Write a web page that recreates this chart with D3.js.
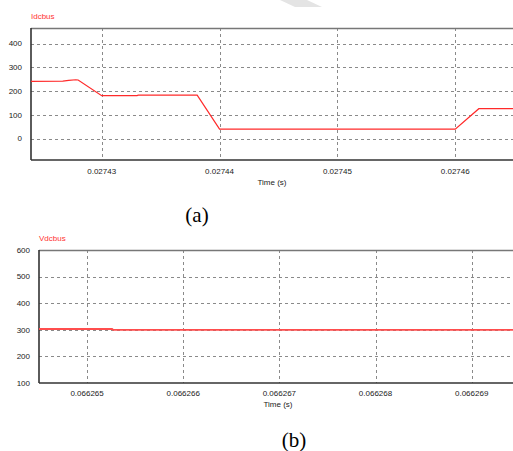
<!DOCTYPE html>
<html><head><meta charset="utf-8">
<script src="https://cdn.jsdelivr.net/npm/d3@7"></script>
<style>
html,body{margin:0;padding:0;background:#fff;}
svg{display:block;}
text{font-family:"Liberation Sans",Arial,sans-serif;}
text.cap{font-family:"Liberation Serif","Times New Roman",serif;}
</style></head>
<body>
<svg id="c" width="513" height="451"></svg>
<script>
// ---- Data (a) Idcbus ----
const idcTime = [0.0274240,0.0274267,0.0274272,0.0274278,0.0274280,0.0274300,0.0274330,0.0274331,0.0274381,0.0274400,0.0274600,0.0274620,0.0274650];
const idcValue = [241,242,245,248,247,181,181,183,183,40,40,126,126];
const idcXTicks = ["0.02743","0.02744","0.02745","0.02746"];
const idcYTicks = [0,100,200,300,400];

// ---- Data (b) Vdcbus ----
const vdcTime = [0.0662645,0.06626526,0.06626527,0.0662695];
const vdcValue = [303,303,300,300];
const vdcXTicks = ["0.066265","0.066266","0.066267","0.066268","0.066269"];
const vdcYTicks = [100,200,300,400,500,600];

const svg = d3.select("#c");

// faint watermark
svg.append("path").attr("d","M280,0 L307,0 L322,7 L295,7 Z").attr("fill","#e4e4e4");

function panel(o){
  const g = svg.append("g");
  const x = d3.scaleLinear().domain(o.xDomain).range([o.left,o.right]);
  const y = d3.scaleLinear().domain(o.yDomain).range([o.bottom,o.top]);
  const xt = o.xTicks.map(Number);
  // grid
  g.selectAll(".gy").data(o.yTicks.filter(v=>y(v)>o.top+1 && y(v)<o.bottom-1)).enter().append("line")
    .attr("x1",o.left).attr("x2",o.right).attr("y1",d=>Math.round(y(d))+0.5).attr("y2",d=>Math.round(y(d))+0.5)
    .attr("stroke","#8a8a8a").attr("stroke-dasharray","3,3").attr("stroke-width",1);
  g.selectAll(".gx").data(xt).enter().append("line")
    .attr("x1",d=>Math.round(x(d))+0.5).attr("x2",d=>Math.round(x(d))+0.5).attr("y1",o.top).attr("y2",o.bottom)
    .attr("stroke","#8a8a8a").attr("stroke-dasharray","3,3").attr("stroke-width",1);
  // frame
  g.append("line").attr("x1",o.left).attr("x2",o.right).attr("y1",o.top+0.5).attr("y2",o.top+0.5).attr("stroke","#777").attr("stroke-width",1.3);
  g.append("line").attr("x1",o.left).attr("x2",o.left).attr("y1",o.top).attr("y2",o.bottom).attr("stroke","#333").attr("stroke-width",1.6);
  g.append("line").attr("x1",o.left).attr("x2",o.right).attr("y1",o.bottom).attr("y2",o.bottom).attr("stroke","#333").attr("stroke-width",1.6);
  // line
  const line = d3.line().x((d,i)=>x(o.time[i])).y(d=>y(d));
  g.append("path").datum(o.values).attr("d",line).attr("fill","none")
    .attr("stroke",o.color).attr("stroke-width",o.lw);
  // y labels
  g.selectAll(".yl").data(o.yTicks).enter().append("text")
    .attr("x",o.left-9).attr("y",d=>y(d)).attr("dy","0.35em").attr("text-anchor","end")
    .attr("font-size",8).attr("fill","#222").text(d=>d);
  // x labels
  g.selectAll(".xl").data(o.xTicks).enter().append("text")
    .attr("x",d=>x(+d)).attr("y",o.bottom+o.xlabOff).attr("text-anchor","middle")
    .attr("font-size",8).attr("fill","#222").text(d=>d);
  g.append("text").attr("x",o.timeX).attr("y",o.bottom+o.xlabOff+11).attr("text-anchor","middle")
    .attr("font-size",8).attr("fill","#222").text("Time (s)");
  g.append("text").attr("x",o.left).attr("y",o.titleY).attr("font-size",8).attr("fill","#ff3333").text(o.title);
  g.append("text").attr("class","cap").attr("x",o.capX).attr("y",o.capY).attr("text-anchor","middle")
    .attr("font-size",21).attr("fill","#000").text(o.caption);
}

panel({left:31,right:513,top:28,bottom:160,xDomain:[0.0274240,0.0274649],yDomain:[-90,466],
  xTicks:idcXTicks,yTicks:idcYTicks,time:idcTime,values:idcValue,color:"#ff2a2a",lw:1.2,
  xlabOff:14,timeX:272,title:"Idcbus",titleY:19,caption:"(a)",capX:197,capY:222});

panel({left:39,right:513,top:250,bottom:383,xDomain:[0.0662645,0.06626943],yDomain:[100,600],
  xTicks:vdcXTicks,yTicks:vdcYTicks,time:vdcTime,values:vdcValue,color:"#ff4d4d",lw:1.8,
  xlabOff:13,timeX:278,title:"Vdcbus",titleY:241,caption:"(b)",capX:294,capY:447});
</script>
</body></html>
